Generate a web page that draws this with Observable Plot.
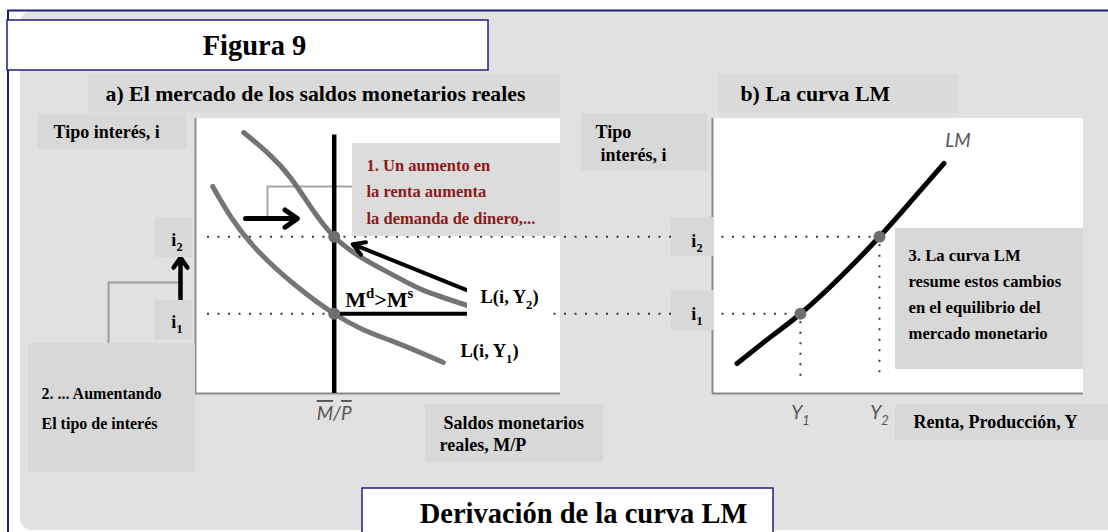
<!DOCTYPE html>
<html lang="es">
<head>
<meta charset="utf-8">
<script src="https://cdn.jsdelivr.net/npm/d3@7"></script>
<script src="https://cdn.jsdelivr.net/npm/@observablehq/plot@0.6"></script>
<style>
html,body{margin:0;padding:0;background:#fff;}
#chart{position:relative;width:1108px;height:532px;overflow:hidden;}
#chart svg{position:absolute;left:0;top:0;}
</style>
</head>
<body>
<div id="chart"></div>
<script>
// ---------------- data (model units: 0..10 on every axis) ----------------
const interestRates = [2.9, 5.7];                 // i1, i2
const interestTicks = ["i_{1}", "i_{2}"];
const realMoneySupply = 3.8;                      // fixed M/P
const moneySupplyTop = 9.4;
const moneySupplyTick = "~{M}/~{P}";
const demandY1 = [[0.47, 7.53], [1.7, 5.2], [3.8, 2.9], [5.34, 1.93], [6.79, 1.13]];
const demandY2 = [[1.32, 9.49], [2.6, 7.85], [3.8, 5.7], [5.34, 4.36], [6.25, 3.75], [7.45, 3.2]];
const excessDemandEnd = 7.45;                     // L(i,Y2) at i1
const demandShift = [1.37, 2.79, 6.36];           // from, to, at i
const pointerFrom = [7.45, 3.75];
const lmCurve = [[0.66, 1.09], [1.56, 2.05], [2.37, 2.9], [3.44, 4.23], [4.5, 5.7], [5.33, 6.96], [6.24, 8.37]];
const incomeLevels = [2.37, 4.5];                 // Y1, Y2
const incomeTicks = ["Y_{1}", "Y_{2}"];

// ---------------- texts ----------------
const figTitle = "Figura 9";
const figCaption = "Derivación de la curva LM";
const headingA = "a) El mercado de los saldos monetarios reales";
const headingB = "b) La curva LM";
const yTitleA = "Tipo interés, i";
const yTitleB = ["Tipo", "interés, i"];
const xTitleA = ["Saldos monetarios", "reales, M/P"];
const xTitleB = "Renta, Producción, Y";
const note1 = ["1. Un aumento en", "la renta aumenta", "la demanda de dinero,..."];
const note2 = ["2. ... Aumentando", "El tipo de interés"];
const note3 = ["3. La curva LM", "resume estos cambios", "en el equilibrio del", "mercado monetario"];
const demandLabels = ["L(i, Y_{1})", "L(i, Y_{2})"];
const excessLabel = "M^{d}>M^{s}";
const lmLabel = "LM";

// ---------------- layout & style ----------------
const W = 1108, H = 532;
const SERIF = "'Liberation Serif', 'Times New Roman', serif";
const SANS = "Lato, 'Open Sans', sans-serif";
const NAVY = "#201f7c";
const BG = "#e1e1e1", BOX = "#d8d8d8";
const AXIS = {stroke: "#8c8c8c", strokeWidth: 2};
const DOTTED = {stroke: "#3a3a3a", strokeWidth: 2, strokeDasharray: "2,8.5"};
const PA = {left: 195, right: 560, top: 118, bottom: 393};
const PB = {left: 712, right: 1083, top: 118, bottom: 393};

const px = d => d[0], py = d => d[1];
const box = (x1, y1, x2, y2, fill, o = {}) => Plot.rect([0], {x1, y1, x2, y2, fill, ...o});
const txt = (x, y, t, o = {}) => Plot.text([t], {x, y, text: d => d, textAnchor: "start",
  fontFamily: SERIF, fontWeight: "bold", fontSize: 18, fill: "black", ...o});
const path = (pts, o = {}) => Plot.line(pts, {x: px, y: py, ...o});

const xa = Plot.scale({x: {domain: [0, 10], range: [PA.left, PA.right]}});
const xb = Plot.scale({x: {domain: [0, 10], range: [PB.left, PB.right]}});
const toA = v => xa.invert(xb.apply(v));
const gutterX = xa.invert(180);

function canvas(marks) {
  return Plot.plot({width: W, height: H, margin: 0,
    x: {type: "identity", axis: null}, y: {type: "identity", axis: null},
    style: {background: "transparent", overflow: "visible"}, marks});
}
function panel(P, marks, hideAxes = true) {
  return Plot.plot({width: W, height: H,
    marginLeft: P.left, marginRight: W - P.right, marginTop: P.top, marginBottom: H - P.bottom,
    x: hideAxes ? {domain: [0, 10], axis: null} : {domain: [0, 10]},
    y: hideAxes ? {domain: [0, 10], axis: null} : {domain: [0, 10]},
    style: {background: "transparent", overflow: "visible"}, marks});
}

// ---------------- layer 0: page, titles, panels ----------------
const L0 = canvas([
  box(20, 11, 1130, 530, BG, {rx: 12}),
  Plot.ruleY([10], {x1: 7, x2: W, stroke: NAVY, strokeWidth: 2}),
  Plot.ruleX([7.5], {y1: 10, y2: H, stroke: NAVY, strokeWidth: 2}),
  box(7, 20, 488, 70, "white", {stroke: NAVY, strokeWidth: 1.5}),
  txt(254, 45, figTitle, {textAnchor: "middle", fontSize: 28.5}),
  box(88, 74, 560, 113, "#dadada"),
  txt(105, 94, headingA, {fontSize: 21.8}),
  box(718, 74, 958, 113, "#dadada"),
  txt(740, 94, headingB, {fontSize: 21.8}),
  box(38, 114, 186, 149, BOX),
  txt(53, 132, yTitleA),
  box(581, 113, 707, 170, BOX),
  txt(595, 132, yTitleB[0]), txt(600, 155, yTitleB[1]),
  box(425, 404, 603, 462, BOX),
  txt(443, 423, xTitleA[0]), txt(439, 445, xTitleA[1]),
  box(895, 404, 1108, 440, BOX),
  txt(913, 422, xTitleB),
  box(362, 488, 773, 545, "white", {stroke: NAVY, strokeWidth: 1.5}),
  txt(583, 513, figCaption, {textAnchor: "middle", fontSize: 28.5}),
  box(196, 118, PA.right, PA.bottom, "white"),
  box(PB.left, 118, PB.right, PB.bottom, "white"),
  path([[108, 343], [108, 282], [177, 282]], {stroke: "#9d9d9d", strokeWidth: 2}),
  path([[353, 186], [267, 186], [267, 217]], {stroke: "#a5a5a5", strokeWidth: 2})
]);

// ---------------- layer 1: money market ----------------
const L1 = panel(PA, [
  Plot.ruleY(interestRates, {y: d => d, x1: 0, x2: (d, i) => toA(incomeLevels[i]), insetLeft: 12, ...DOTTED}),
  Plot.ruleX([0], AXIS),
  Plot.ruleY([0], AXIS),
  Plot.line(demandY1, {x: px, y: py, curve: "natural", stroke: "#767676", strokeWidth: 5}),
  Plot.line(demandY2, {x: px, y: py, curve: "natural", stroke: "#737373", strokeWidth: 5}),
  Plot.ruleX([realMoneySupply], {y1: moneySupplyTop, y2: 0, stroke: "black", strokeWidth: 4.5}),
  Plot.ruleY([interestRates[0]], {x1: realMoneySupply, x2: excessDemandEnd, stroke: "black", strokeWidth: 4}),
  Plot.arrow([demandShift], {x1: d => d[0], x2: d => d[1], y1: d => d[2], y2: d => d[2],
    stroke: "black", strokeWidth: 5, headLength: 4.5, headAngle: 70, strokeLinejoin: "miter"}),
  Plot.arrow([0], {x1: pointerFrom[0], y1: pointerFrom[1], x2: realMoneySupply, y2: interestRates[1],
    insetEnd: 20, stroke: "black", strokeWidth: 4, headLength: 5, headAngle: 60, strokeLinejoin: "miter"}),
  Plot.arrow([0], {x1: gutterX, x2: gutterX, y1: interestRates[0], y2: interestRates[1],
    insetStart: 13, insetEnd: 21, stroke: "black", strokeWidth: 4.5, headLength: 4, headAngle: 70, strokeLinejoin: "miter"}),
  Plot.dot(interestRates.map(i => [realMoneySupply, i]), {x: px, y: py, r: 6, fill: "#6e6e6e"}),
  Plot.text([[realMoneySupply, interestRates[0]]], {x: px, y: py, text: () => excessLabel, dx: 11, dy: -14,
    textAnchor: "start", fontFamily: SERIF, fontWeight: "bold", fontSize: 22})
]);

// ---------------- layer 2: LM curve ----------------
const L2 = panel(PB, [
  Plot.ruleX([0], AXIS),
  Plot.ruleY([0], AXIS),
  Plot.ruleX(incomeLevels, {x: d => d, y1: (d, i) => interestRates[i], y2: 0, insetTop: 8, insetBottom: 16, ...DOTTED}),
  Plot.line(lmCurve, {x: px, y: py, curve: "natural", stroke: "black", strokeWidth: 5}),
  Plot.dot(incomeLevels.map((y, i) => [y, interestRates[i]]), {x: px, y: py, r: 6, fill: "#6e6e6e"}),
  Plot.text([lmCurve[lmCurve.length - 1]], {x: px, y: py, text: () => lmLabel, dx: 14, dy: -22,
    fontFamily: SANS, fontStyle: "italic", fontSize: 19, fill: "#555"})
]);

// ---------------- layer 3: annotation boxes ----------------
const L3 = canvas([
  box(352, 143, 560, 236, "#dcdcdc"),
  ...note1.map((t, k) => txt(366, 165 + k * 26.5, t, {fontSize: 16.5, fill: "#8b1a1a"})),
  box(28, 343, 195, 472, BOX),
  ...note2.map((t, k) => txt(41, 393 + k * 30, t, {fontSize: 16})),
  box(895, 228, 1083, 369, BOX),
  ...note3.map((t, k) => txt(908, 255 + k * 26, t, {fontSize: 16.7})),
  box(155, 217, 192, 257, BOX), box(154, 300, 192, 340, BOX),
  box(671, 217, 714, 256, BOX), box(671, 290, 714, 330, BOX),
  box(467, 280, 553, 315, "white"), box(447, 334, 528, 368, "white"),
  txt(480, 297, demandLabels[1], {fontSize: 18.5}), txt(460, 351, demandLabels[0], {fontSize: 18.5})
]);

// ---------------- layer 4: tick labels through the panels' axes ----------------
const tickFont = {tickSize: 0, label: null, fontFamily: SERIF, fontWeight: "bold", fontSize: 18, fill: "black"};
const L4a = panel(PA, [
  Plot.axisY([interestRates[1]], {...tickFont, tickPadding: 13, dy: 3, tickFormat: () => interestTicks[1]}),
  Plot.axisY([interestRates[0]], {...tickFont, tickPadding: 13, dy: 8, tickFormat: () => interestTicks[0]}),
  Plot.axisX([realMoneySupply], {tickSize: 0, label: null, tickPadding: 13, tickFormat: () => moneySupplyTick,
    fontFamily: SANS, fontStyle: "italic", fontSize: 19, fill: "#555"})
], false);
const L4b = panel(PB, [
  Plot.axisY([interestRates[1]], {...tickFont, tickPadding: 10, dy: 4, tickFormat: () => interestTicks[1]}),
  Plot.axisY([interestRates[0]], {...tickFont, tickPadding: 10, dy: 0, tickFormat: () => interestTicks[0]}),
  Plot.axisX(incomeLevels, {tickSize: 0, label: null, tickPadding: 12,
    tickFormat: d => incomeTicks[incomeLevels.indexOf(d)],
    fontFamily: SANS, fontStyle: "italic", fontSize: 19, fill: "#555"})
], false);

// ---------------- sub/superscripts & overlines ----------------
function rich(svg) {
  svg.querySelectorAll("text").forEach(el => {
    const t = el.textContent;
    if (!/[_^~]\{/.test(t)) return;
    const fs = parseFloat(getComputedStyle(el).fontSize) || 16;
    while (el.firstChild) el.removeChild(el.firstChild);
    const re = /([_^~])\{([^}]*)\}|([^_^~]+)/g;
    let m, shift = 0;
    while ((m = re.exec(t))) {
      const ts = document.createElementNS("http://www.w3.org/2000/svg", "tspan");
      if (m[3] !== undefined || m[1] === "~") {
        ts.textContent = m[3] !== undefined ? m[3] : m[2];
        if (m[1] === "~") ts.setAttribute("text-decoration", "overline");
        if (shift) { ts.setAttribute("dy", -shift); shift = 0; }
      } else {
        const s = m[1] === "_" ? 0.32 * fs : -0.42 * fs;
        ts.textContent = m[2];
        ts.setAttribute("font-size", 0.68 * fs);
        ts.setAttribute("dy", s - shift);
        shift = s;
      }
      el.appendChild(ts);
    }
  });
}

const chart = document.getElementById("chart");
for (const svg of [L0, L1, L2, L3, L4a, L4b]) { chart.appendChild(svg); rich(svg); }
</script>
</body>
</html>
